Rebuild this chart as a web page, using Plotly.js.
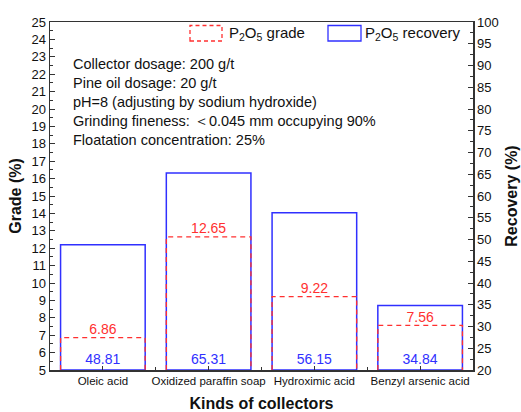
<!DOCTYPE html>
<html>
<head>
<meta charset="utf-8">
<script src="https://cdn.plot.ly/plotly-3.0.1.min.js"></script>
<style>html,body{margin:0;padding:0;background:#fff;}#chart{width:521px;height:412px;}</style>
</head>
<body>
<div id="chart"></div>
<script>
const categories = ["Oleic acid", "Oxidized paraffin soap", "Hydroximic acid", "Benzyl arsenic acid"];
const gradeValues = [6.86, 12.65, 9.22, 7.56];
const recoveryValues = [48.81, 65.31, 56.15, 34.84];
const notes = [
  "Collector dosage: 200 g/t",
  "Pine oil dosage: 20 g/t",
  "pH=8 (adjusting by sodium hydroxide)",
  "Grinding fineness: \uff1c0.045 mm occupying 90%",
  "Floatation concentration: 25%"
];

const BLUE = "#3030ff";
const RED = "#ff3030";
const halfW = 0.4;
const gradeBase = 5;
const recoveryBase = 20;
const FONT = "Liberation Sans, Arial";

const idx = categories.map((_, i) => i);

// dashed grade outlines built from values
const gx = [], gy = [];
gradeValues.forEach((v, i) => {
  gx.push(i - halfW, i - halfW, i + halfW, i + halfW, null);
  gy.push(gradeBase, v, v, gradeBase, null);
});

const traces = [
  {
    type: "bar", x: idx, y: recoveryValues.map(v => v - recoveryBase), base: recoveryBase,
    yaxis: "y", width: 0.8,
    marker: {color: "rgba(0,0,0,0)", line: {color: BLUE, width: 1.5}},
    text: recoveryValues.map(v => v.toFixed(2)), textposition: "inside",
    insidetextanchor: "start", textangle: 0,
    textfont: {color: BLUE, size: 14, family: FONT},
    showlegend: false, hoverinfo: "skip"
  },
  {
    type: "scatter", mode: "lines", x: gx, y: gy, yaxis: "y2",
    line: {color: RED, width: 1.3, dash: "5px,4px"},
    showlegend: false, hoverinfo: "skip", connectgaps: false
  },
  {
    type: "scatter", mode: "text", x: idx, y: gradeValues, yaxis: "y2",
    text: gradeValues.map(v => v.toFixed(2)), textposition: "top center",
    textfont: {color: RED, size: 14, family: FONT},
    showlegend: false, hoverinfo: "skip"
  }
];

const annotations = notes.map((t, i) => ({
  xref: "paper", yref: "paper", x: 0.05, y: 1 - (42 + i * 19) / 348,
  xanchor: "left", yanchor: "middle", text: t, showarrow: false,
  font: {size: 14.5, color: "#111", family: FONT}
}));
annotations.push(
  {xref: "paper", yref: "paper", x: (227 - 50) / 423, y: 1 - 11 / 348, xanchor: "left", yanchor: "middle",
   text: "P<sub>2</sub>O<sub>5</sub> grade", showarrow: false, font: {size: 15, color: "#111", family: FONT}},
  {xref: "paper", yref: "paper", x: (363 - 50) / 423, y: 1 - 11 / 348, xanchor: "left", yanchor: "middle",
   text: "P<sub>2</sub>O<sub>5</sub> recovery", showarrow: false, font: {size: 15, color: "#111", family: FONT}}
);

const shapes = [
  {type: "rect", xref: "paper", yref: "paper", x0: (190 - 50) / 423, x1: (222 - 50) / 423,
   y0: 1 - 19 / 348, y1: 1 - 3.5 / 348, line: {color: RED, width: 1.3, dash: "4px,3px"}},
  {type: "rect", xref: "paper", yref: "paper", x0: (328 - 50) / 423, x1: (361 - 50) / 423,
   y0: 1 - 19 / 348, y1: 1 - 3.5 / 348, line: {color: BLUE, width: 1.3}}
];

const tickFont = {size: 13, color: "#111", family: FONT};
const layout = {
  width: 521, height: 412,
  margin: {l: 50, r: 48, t: 22, b: 42},
  paper_bgcolor: "#fff", plot_bgcolor: "#fff",
  showlegend: false,
  xaxis: {
    range: [-0.5, 3.5], tickvals: idx, ticktext: categories,
    ticks: "inside", ticklen: 4, tickcolor: "#333", showgrid: false, zeroline: false,
    showline: true, linecolor: "#333", linewidth: 1.5, mirror: true,
    minor: {tickvals: [0.5, 1.5, 2.5], ticks: "inside", ticklen: 3, tickcolor: "#333"},
    tickfont: {size: 11.5, color: "#111", family: FONT},
    title: {text: "<b>Kinds of collectors</b>", font: {size: 16, color: "#111", family: FONT}, standoff: 13}
  },
  yaxis: {
    side: "right", range: [20, 100], dtick: 5, tick0: 20,
    ticks: "inside", ticklen: 5, tickcolor: "#333", showgrid: false, zeroline: false,
    showline: true, linecolor: "#333", linewidth: 1.5,
    minor: {dtick: 2.5, ticks: "inside", ticklen: 3, tickcolor: "#333"},
    tickfont: tickFont,
    title: {text: "<b>Recovery (%)</b>", font: {size: 16, color: "#111", family: FONT}, standoff: 8}
  },
  yaxis2: {
    overlaying: "y", side: "left", range: [5, 25], dtick: 1, tick0: 5,
    ticks: "inside", ticklen: 5, tickcolor: "#333", showgrid: false, zeroline: false,
    showline: true, linecolor: "#333", linewidth: 1.5,
    minor: {dtick: 0.5, ticks: "inside", ticklen: 3, tickcolor: "#333"},
    tickfont: tickFont,
    title: {text: "<b>Grade (%)</b>", font: {size: 16, color: "#111", family: FONT}, standoff: 6}
  },
  annotations: annotations,
  shapes: shapes
};

Plotly.newPlot("chart", traces, layout, {staticPlot: true, displayModeBar: false});
</script>
</body>
</html>
